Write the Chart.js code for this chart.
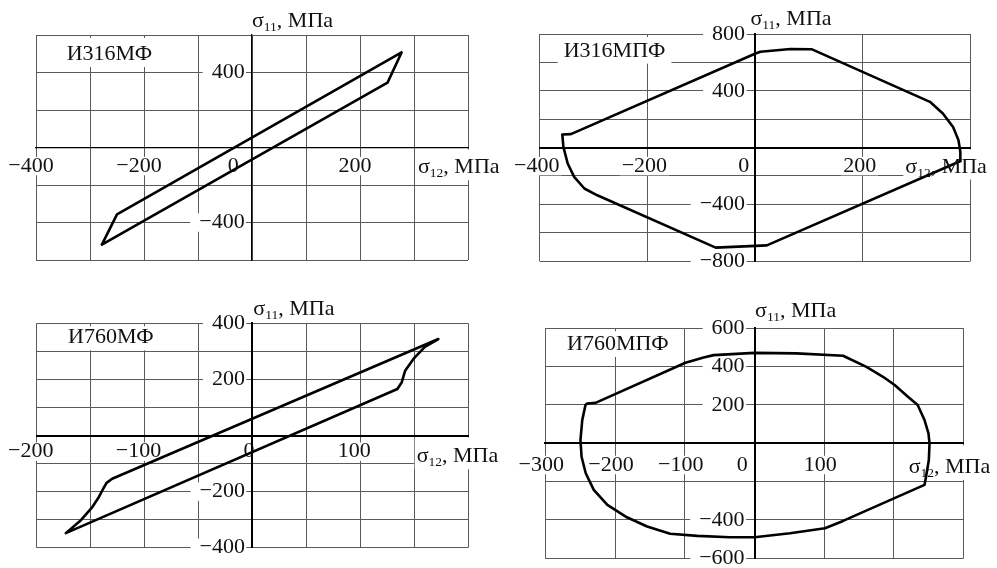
<!DOCTYPE html>
<html>
<head>
<meta charset="utf-8">
<script src="https://cdn.jsdelivr.net/npm/chart.js@4/dist/chart.umd.min.js"></script>
<style>
  html, body { margin: 0; padding: 0; background: #fff; }
  #wrap { position: relative; width: 997px; height: 568px; overflow: hidden; background: #fff; }
  canvas { position: absolute; }
</style>
</head>
<body>
<div id="wrap">
  <canvas id="c1" width="500" height="290" style="left:0;top:0"></canvas>
  <canvas id="c2" width="500" height="290" style="left:497px;top:0"></canvas>
  <canvas id="c3" width="500" height="278" style="left:0;top:290px"></canvas>
  <canvas id="c4" width="500" height="278" style="left:497px;top:290px"></canvas>
</div>
<script>
// Stress loops: shear stress sigma12 (x) against normal stress sigma11 (y), MPa

// И316МФ
const loop316MF_s12 = [277, 251, -278, -250, 277];
const loop316MF_s11 = [507, 346, -518, -357, 507];

// И316МПФ
const loop316MPF_s12 = [-342, -358, -356, -348, -336, -317, -293, -73, 22, 382, 381.5, 378, 368, 349, 325, 106, 66, 10, 1, -342];
const loop316MPF_s11 = [94, 92, 4, -113, -207, -289, -337, -706, -690, -95, -31, 52, 145, 240, 322, 692, 694, 675, 663, 94];

// И760МФ
const loop760MF_s12 = [172.5, 160, 149.4, 141.7, 138.6, 134.5, -173, -159, -148.4, -142.3, -138.2, -135.2, -130, 172.5];
const loop760MF_s11 = [344, 316, 273, 231, 190, 166, -348, -302, -255, -219, -189, -169, -154, 344];

// И760МПФ
const loop760MPF_s12 = [-228, -240, -242.4, -247, -249.6, -248, -242, -230.5, -211, -183, -154, -121, -82, -35, 0, 51, 101, 127, 243.8, 246, 250, 251, 249.5, 243.8, 234, 220, 201, 184.3, 160.5, 127, 60, 0, -58.6, -73, -99, -228];
const loop760MPF_s11 = [211, 208, 200, 121, 17, -70, -156, -243, -321, -386, -434, -472, -483, -490, -490, -469, -443, -405, -217, -174, -87, 0, 52, 121.5, 200, 243, 304, 347, 399, 457, 469, 472, 460, 448, 420, 211];

// Tick labels shown on each axis
const ticks316MF_x = [-400, -200, 0, 200];
const ticks316MF_y = [400, -400];
const ticks316MPF_x = [-400, -200, 0, 200];
const ticks316MPF_y = [800, 400, -400, -800];
const ticks760MF_x = [-200, -100, 0, 100];
const ticks760MF_y = [400, 200, -200, -400];
const ticks760MPF_x = [-300, -200, -100, 0, 100];
const ticks760MPF_y = [600, 400, 200, -400, -600];

const FAMILY = "'Liberation Serif', 'Times New Roman', serif";
const TEXT_COLOR = '#111';
const GRID_COLOR = '#5a5a5a';
const FONT_SIZE = 22;
const MAIN_FONT = FONT_SIZE + 'px ' + FAMILY;
const SUB_FONT = '13.5px ' + FAMILY;

function fmt(v) { return v < 0 ? '\u2212' + Math.abs(v) : String(v); }
function toPoints(xs, ys) { return xs.map((x, i) => ({ x: x, y: ys[i] })); }

// "σ" + subscript + ", МПа"; returns drawn width
function sigmaWidth(ctx, sub) {
  ctx.font = MAIN_FONT; let w = ctx.measureText('\u03c3').width;
  ctx.font = SUB_FONT; w += ctx.measureText(sub).width;
  ctx.font = MAIN_FONT; w += ctx.measureText(', МПа').width;
  return w;
}
function drawSigma(ctx, x, y, sub) {
  ctx.fillStyle = TEXT_COLOR;
  ctx.textAlign = 'left';
  ctx.textBaseline = 'alphabetic';
  ctx.font = MAIN_FONT;
  ctx.fillText('\u03c3', x, y);
  let w = ctx.measureText('\u03c3').width;
  ctx.font = SUB_FONT;
  ctx.fillText(sub, x + w, y + 4);
  w += ctx.measureText(sub).width;
  ctx.font = MAIN_FONT;
  ctx.fillText(', МПа', x + w, y);
}

// Panel name and axis titles
const panelText = {
  id: 'panelText',
  beforeDatasetsDraw(chart, args, o) {
    const { ctx, chartArea, scales } = chart;
    ctx.save();
    // panel name with white box
    ctx.font = MAIN_FONT;
    const nx = chartArea.left + o.nameDx, ny = chartArea.top + o.nameDy;
    const nw = ctx.measureText(o.name).width;
    ctx.fillStyle = '#fff';
    ctx.fillRect(nx - 6, chartArea.top + 3, nw + 12, ny + 7 - (chartArea.top + 3));
    ctx.fillStyle = TEXT_COLOR;
    ctx.textAlign = 'left';
    ctx.textBaseline = 'alphabetic';
    ctx.fillText(o.name, nx, ny);
    // white box under the sigma12 title
    const axisY = scales.y.getPixelForValue(0);
    const tx = chartArea.right + o.xTitleDx, ty = axisY + o.xTitleDy;
    const tw = sigmaWidth(ctx, '12');
    ctx.fillStyle = '#fff';
    ctx.fillRect(tx - 2, axisY + 2, tw + 4, ty + 7 - (axisY + 2));
    ctx.restore();
  },
  afterDatasetsDraw(chart, args, o) {
    const { ctx, chartArea, scales } = chart;
    ctx.save();
    const axisX = scales.x.getPixelForValue(0);
    const axisY = scales.y.getPixelForValue(0);
    drawSigma(ctx, axisX + o.yTitleDx, chartArea.top + o.yTitleDy, '11');
    drawSigma(ctx, chartArea.right + o.xTitleDx, axisY + o.xTitleDy, '12');
    ctx.restore();
  }
};

function zeroPadding(s) {
  s.paddingLeft = 0; s.paddingRight = 0; s.paddingTop = 0; s.paddingBottom = 0;
}

function makeChart(id, c) {
  const font = { family: FAMILY, size: FONT_SIZE };
  return new Chart(document.getElementById(id), {
    type: 'scatter',
    data: {
      datasets: [{
        data: toPoints(c.s12, c.s11),
        showLine: true,
        borderColor: '#000',
        borderWidth: 2.6,
        borderJoinStyle: 'round',
        borderCapStyle: 'round',
        pointRadius: 0,
        tension: 0,
        fill: false
      }]
    },
    options: {
      responsive: false,
      animation: false,
      devicePixelRatio: 1,
      events: [],
      layout: { padding: c.padding },
      plugins: {
        legend: { display: false },
        tooltip: { enabled: false },
        panelText: c.text
      },
      scales: {
        x: {
          type: 'linear',
          position: { y: 0 },
          min: c.xMin, max: c.xMax,
          ticks: {
            stepSize: c.xStep,
            autoSkip: false,
            maxRotation: 0,
            padding: c.xPad,
            labelOffset: c.labelOffset,
            font: font,
            color: TEXT_COLOR,
            callback: v => c.xTicks.includes(v) ? (v === 0 ? c.zeroText : fmt(v)) : '',
            showLabelBackdrop: true,
            backdropColor: ctx => (ctx.tick && c.xTicks.includes(ctx.tick.value) && ctx.tick.value !== 0) ? '#fff' : 'rgba(0,0,0,0)',
            backdropPadding: { left: 2, right: 2, top: -4, bottom: -4 }
          },
          grid: { color: GRID_COLOR, lineWidth: 1, drawTicks: false },
          border: { display: true, color: '#000', width: c.axisWidth },
          afterFit: s => { s.height = 0; zeroPadding(s); }
        },
        y: {
          type: 'linear',
          position: { x: 0 },
          min: c.yMin, max: c.yMax,
          ticks: {
            stepSize: c.yStep,
            autoSkip: false,
            font: font,
            color: TEXT_COLOR,
            // labels sit right-aligned against the axis; the trailing gap keeps them clear of it
            callback: v => c.yTicks.includes(v) ? fmt(v) + c.yGap : '',
            showLabelBackdrop: true,
            backdropColor: ctx => (ctx.tick && c.yTicks.includes(ctx.tick.value)) ? '#fff' : 'rgba(0,0,0,0)',
            backdropPadding: { left: 9, right: c.yBackRight, top: -4, bottom: -4 }
          },
          grid: { color: GRID_COLOR, lineWidth: 1, drawTicks: false },
          border: { display: true, color: '#000', width: c.axisWidth },
          afterFit: s => { s.width = 0; zeroPadding(s); }
        }
      }
    },
    plugins: [panelText]
  });
}

makeChart('c1', {
  s12: loop316MF_s12, s11: loop316MF_s11,
  xMin: -400, xMax: 400, xStep: 100, yMin: -600, yMax: 600, yStep: 200,
  xTicks: ticks316MF_x, yTicks: ticks316MF_y, zeroText: '0     ',
  yGap: ' \u200A', yBackRight: -6,
  xPad: 5.4, labelOffset: -5, axisWidth: 1.3,
  padding: { left: 36, top: 35, right: 32, bottom: 30 },
  text: { name: 'И316МФ', nameDx: 30.7, nameDy: 25, yTitleDx: 0, yTitleDy: -8, xTitleDx: -50, xTitleDy: 25.7 }
});

makeChart('c2', {
  s12: loop316MPF_s12, s11: loop316MPF_s11,
  xMin: -400, xMax: 400, xStep: 200, yMin: -800, yMax: 800, yStep: 200,
  xTicks: ticks316MPF_x, yTicks: ticks316MPF_y, zeroText: '0   ',
  yGap: ' \u2009', yBackRight: -8.4,
  xPad: 5.4, labelOffset: -3, axisWidth: 2,
  padding: { left: 42.7, top: 34, right: 26.7, bottom: 29 },
  text: { name: 'И316МПФ', nameDx: 24, nameDy: 22.7, yTitleDx: -4.5, yTitleDy: -9, xTitleDx: -65, xTitleDy: 25 }
});

makeChart('c3', {
  s12: loop760MF_s12, s11: loop760MF_s11,
  xMin: -200, xMax: 200, xStep: 50, yMin: -400, yMax: 400, yStep: 100,
  xTicks: ticks760MF_x, yTicks: ticks760MF_y, zeroText: ' 0',
  yGap: ' \u200A', yBackRight: -6,
  xPad: 3, labelOffset: -6, axisWidth: 2,
  padding: { left: 36.7, top: 33.3, right: 32, bottom: 20.3 },
  text: { name: 'И760МФ', nameDx: 31.3, nameDy: 20, yTitleDx: 1, yTitleDy: -8.3, xTitleDx: -51.3, xTitleDy: 26.7 }
});

makeChart('c4', {
  s12: loop760MPF_s12, s11: loop760MPF_s11,
  xMin: -300, xMax: 300, xStep: 100, yMin: -600, yMax: 600, yStep: 200,
  xTicks: ticks760MPF_x, yTicks: ticks760MPF_y, zeroText: '0   ',
  yGap: ' \u2009', yBackRight: -8.4,
  xPad: 8.5, labelOffset: -4, axisWidth: 2,
  padding: { left: 48.3, top: 38.3, right: 33.3, bottom: 9.7 },
  text: { name: 'И760МПФ', nameDx: 21.7, nameDy: 21.7, yTitleDx: 0.6, yTitleDy: -11.6, xTitleDx: -55, xTitleDy: 29.7 }
});
</script>
</body>
</html>
